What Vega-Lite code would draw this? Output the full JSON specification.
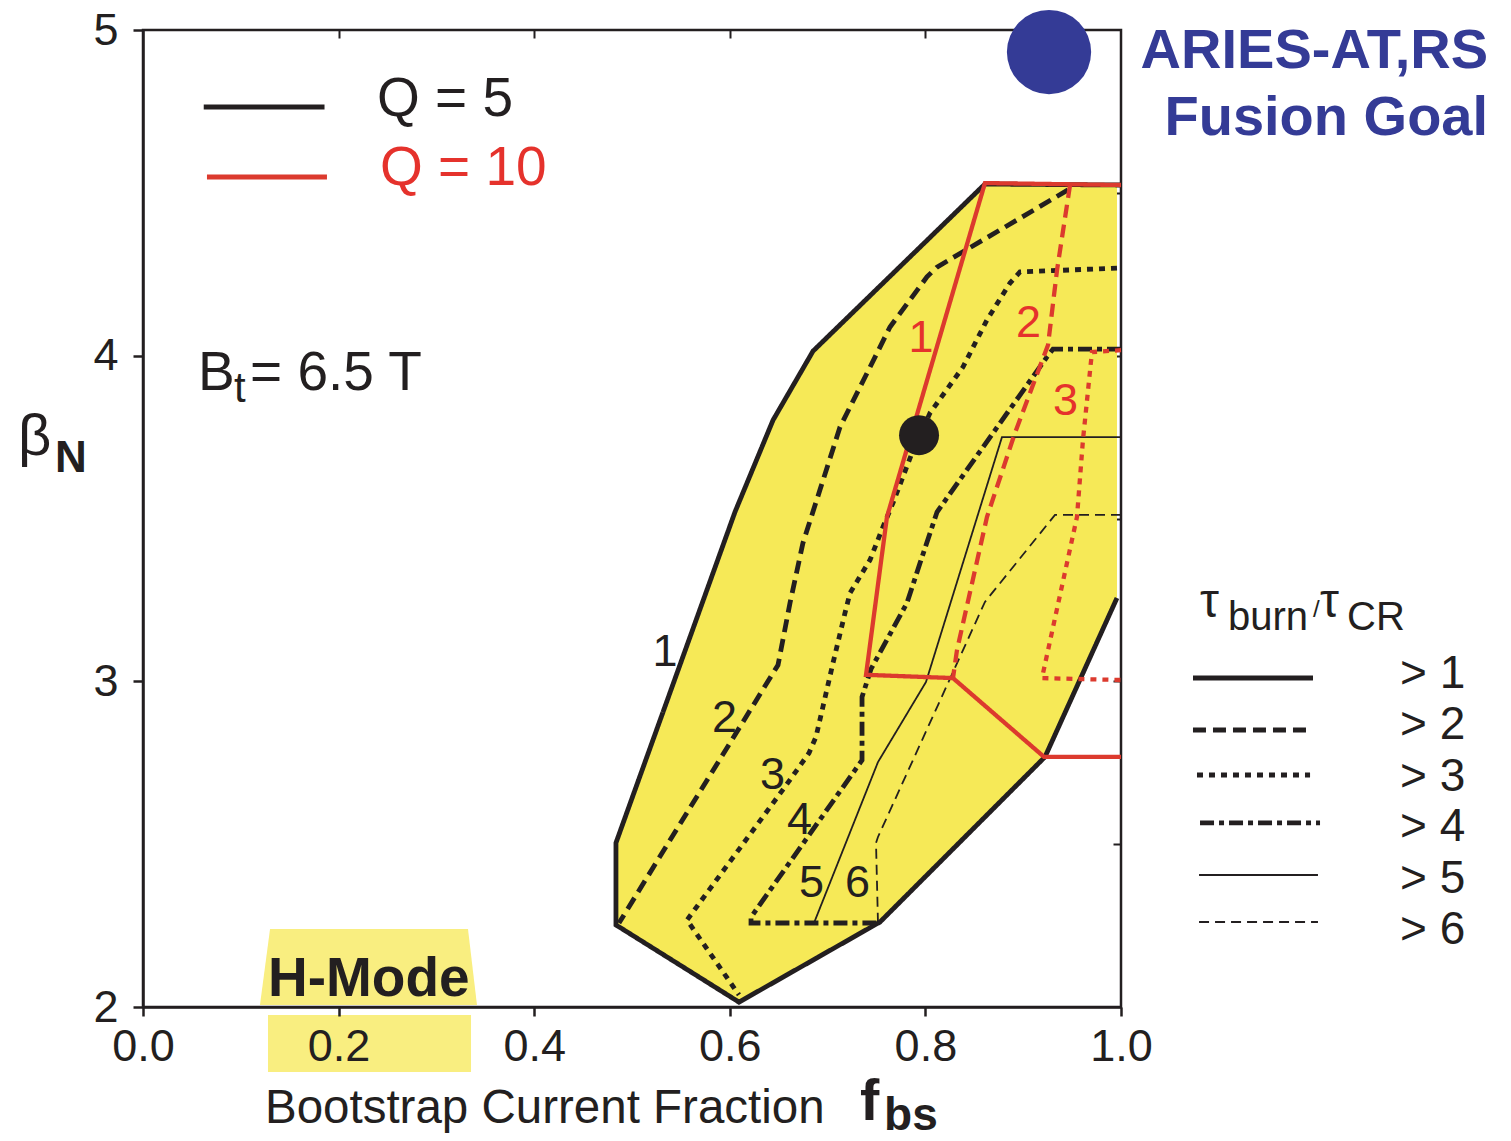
{
"$schema": "https://vega.github.io/schema/vega-lite/v6.json",
"width": 978, "height": 977,
"autosize": {"type": "none"},
"padding": {"left": 143, "top": 30, "right": 390, "bottom": 134},
"background": "white",
"config": {"view": {"stroke": "#231f20", "strokeWidth": 2.5}, "font": "Liberation Sans", "axis": {"grid": false}},
"datasets": {
"curves": [
{"c":"k1","q":"5","t":">1","o":1,"x":1.0,"y":4.524},
{"c":"k1","q":"5","t":">1","o":2,"x":0.8609,"y":4.527},
{"c":"k1","q":"5","t":">1","o":3,"x":0.6851,"y":4.014},
{"c":"k1","q":"5","t":">1","o":4,"x":0.6442,"y":3.802},
{"c":"k1","q":"5","t":">1","o":5,"x":0.6053,"y":3.52},
{"c":"k1","q":"5","t":">1","o":6,"x":0.4836,"y":2.504},
{"c":"k1","q":"5","t":">1","o":7,"x":0.4836,"y":2.252},
{"c":"k1","q":"5","t":">1","o":8,"x":0.6094,"y":2.015},
{"c":"k1","q":"5","t":">1","o":9,"x":0.7536,"y":2.261},
{"c":"k1","q":"5","t":">1","o":10,"x":0.9223,"y":2.768},
{"c":"k1","q":"5","t":">1","o":11,"x":0.9959,"y":3.256},
{"c":"k2","q":"5","t":">2","o":1,"x":0.9458,"y":4.509},
{"c":"k2","q":"5","t":">2","o":2,"x":0.8119,"y":4.272},
{"c":"k2","q":"5","t":">2","o":3,"x":0.8016,"y":4.242},
{"c":"k2","q":"5","t":">2","o":4,"x":0.7638,"y":4.088},
{"c":"k2","q":"5","t":">2","o":5,"x":0.7434,"y":3.965},
{"c":"k2","q":"5","t":">2","o":6,"x":0.7127,"y":3.781},
{"c":"k2","q":"5","t":">2","o":7,"x":0.6922,"y":3.588},
{"c":"k2","q":"5","t":">2","o":8,"x":0.6748,"y":3.425},
{"c":"k2","q":"5","t":">2","o":9,"x":0.6616,"y":3.241},
{"c":"k2","q":"5","t":">2","o":10,"x":0.6493,"y":3.05},
{"c":"k2","q":"5","t":">2","o":11,"x":0.4867,"y":2.258},
{"c":"k3","q":"5","t":">3","o":1,"x":0.9959,"y":4.269},
{"c":"k3","q":"5","t":">3","o":2,"x":0.8967,"y":4.257},
{"c":"k3","q":"5","t":">3","o":3,"x":0.8865,"y":4.223},
{"c":"k3","q":"5","t":">3","o":4,"x":0.863,"y":4.11},
{"c":"k3","q":"5","t":">3","o":5,"x":0.8384,"y":3.965},
{"c":"k3","q":"5","t":">3","o":6,"x":0.8047,"y":3.824},
{"c":"k3","q":"5","t":">3","o":7,"x":0.7863,"y":3.701},
{"c":"k3","q":"5","t":">3","o":8,"x":0.7669,"y":3.548},
{"c":"k3","q":"5","t":">3","o":9,"x":0.7566,"y":3.474},
{"c":"k3","q":"5","t":">3","o":10,"x":0.7434,"y":3.373},
{"c":"k3","q":"5","t":">3","o":11,"x":0.7229,"y":3.271},
{"c":"k3","q":"5","t":">3","o":12,"x":0.7178,"y":3.21},
{"c":"k3","q":"5","t":">3","o":13,"x":0.7055,"y":3.056},
{"c":"k3","q":"5","t":">3","o":14,"x":0.6881,"y":2.829},
{"c":"k3","q":"5","t":">3","o":15,"x":0.681,"y":2.78},
{"c":"k3","q":"5","t":">3","o":16,"x":0.6564,"y":2.676},
{"c":"k3","q":"5","t":">3","o":17,"x":0.5562,"y":2.267},
{"c":"k3","q":"5","t":">3","o":18,"x":0.6094,"y":2.037},
{"c":"k4","q":"5","t":">4","o":1,"x":1.0,"y":4.02},
{"c":"k4","q":"5","t":">4","o":2,"x":0.9305,"y":4.02},
{"c":"k4","q":"5","t":">4","o":3,"x":0.9243,"y":3.996},
{"c":"k4","q":"5","t":">4","o":4,"x":0.8119,"y":3.52},
{"c":"k4","q":"5","t":">4","o":5,"x":0.7945,"y":3.363},
{"c":"k4","q":"5","t":">4","o":6,"x":0.7812,"y":3.241},
{"c":"k4","q":"5","t":">4","o":7,"x":0.7444,"y":3.038},
{"c":"k4","q":"5","t":">4","o":8,"x":0.7352,"y":2.952},
{"c":"k4","q":"5","t":">4","o":9,"x":0.7352,"y":2.758},
{"c":"k4","q":"5","t":">4","o":10,"x":0.6217,"y":2.276},
{"c":"k4","q":"5","t":">4","o":11,"x":0.6217,"y":2.258},
{"c":"k4","q":"5","t":">4","o":12,"x":0.7515,"y":2.258},
{"c":"k5","q":"5","t":">5","o":1,"x":1.0,"y":3.75},
{"c":"k5","q":"5","t":">5","o":2,"x":0.8783,"y":3.75},
{"c":"k5","q":"5","t":">5","o":3,"x":0.8006,"y":2.998},
{"c":"k5","q":"5","t":">5","o":4,"x":0.7515,"y":2.752},
{"c":"k5","q":"5","t":">5","o":5,"x":0.6861,"y":2.258},
{"c":"k6","q":"5","t":">6","o":1,"x":1.0,"y":3.511},
{"c":"k6","q":"5","t":">6","o":2,"x":0.9325,"y":3.511},
{"c":"k6","q":"5","t":">6","o":3,"x":0.8609,"y":3.244},
{"c":"k6","q":"5","t":">6","o":4,"x":0.7515,"y":2.522},
{"c":"k6","q":"5","t":">6","o":5,"x":0.7495,"y":2.504},
{"c":"k6","q":"5","t":">6","o":6,"x":0.7515,"y":2.261},
{"c":"r1","q":"10","t":">1","o":1,"x":1.0,"y":4.524},
{"c":"r1","q":"10","t":">1","o":2,"x":0.8609,"y":4.53},
{"c":"r1","q":"10","t":">1","o":3,"x":0.7607,"y":3.505},
{"c":"r1","q":"10","t":">1","o":4,"x":0.7393,"y":3.02},
{"c":"r1","q":"10","t":">1","o":5,"x":0.8282,"y":3.01},
{"c":"r1","q":"10","t":">1","o":6,"x":0.9213,"y":2.768},
{"c":"r1","q":"10","t":">1","o":7,"x":1.0,"y":2.768},
{"c":"r2","q":"10","t":">2","o":1,"x":0.9479,"y":4.524},
{"c":"r2","q":"10","t":">2","o":2,"x":0.9346,"y":4.263},
{"c":"r2","q":"10","t":">2","o":3,"x":0.9254,"y":4.033},
{"c":"r2","q":"10","t":">2","o":4,"x":0.8916,"y":3.763},
{"c":"r2","q":"10","t":">2","o":5,"x":0.863,"y":3.505},
{"c":"r2","q":"10","t":">2","o":6,"x":0.8323,"y":3.096},
{"c":"r2","q":"10","t":">2","o":7,"x":0.8282,"y":3.01},
{"c":"r3","q":"10","t":">3","o":1,"x":1.0,"y":4.017},
{"c":"r3","q":"10","t":">3","o":2,"x":0.9703,"y":4.011},
{"c":"r3","q":"10","t":">3","o":3,"x":0.9611,"y":3.741},
{"c":"r3","q":"10","t":">3","o":4,"x":0.955,"y":3.505},
{"c":"r3","q":"10","t":">3","o":5,"x":0.9192,"y":3.01},
{"c":"r3","q":"10","t":">3","o":6,"x":1.0,"y":3.004}
],
"region": [
{"o":1,"x":0.8609,"y":4.527},
{"o":2,"x":0.6851,"y":4.014},
{"o":3,"x":0.6442,"y":3.802},
{"o":4,"x":0.6053,"y":3.52},
{"o":5,"x":0.4836,"y":2.504},
{"o":6,"x":0.4836,"y":2.252},
{"o":7,"x":0.6094,"y":2.015},
{"o":8,"x":0.7536,"y":2.261},
{"o":9,"x":0.9223,"y":2.768},
{"o":10,"x":0.9959,"y":3.256},
{"o":11,"x":0.9959,"y":4.524}
],
"keys": [
{"g":"tau","q":"5","t":">1","x":1.0736,"x2":1.1963,"y":3.0103},
{"g":"tau","q":"5","t":">2","x":1.0736,"x2":1.1963,"y":2.8506},
{"g":"tau","q":"5","t":">3","x":1.0777,"x2":1.1933,"y":2.7124},
{"g":"tau","q":"5","t":">4","x":1.0808,"x2":1.2035,"y":2.5651},
{"g":"tau","q":"5","t":">5","x":1.0798,"x2":1.2014,"y":2.4053},
{"g":"tau","q":"5","t":">6","x":1.0798,"x2":1.2014,"y":2.261},
{"g":"Q","q":"5","t":">1","x":0.0621,"x2":0.1856,"y":4.7636},
{"g":"Q","q":"10","t":">1","x":0.0654,"x2":0.1881,"y":4.5486}
]
},
"resolve": {"axis": {"x": "independent", "y": "independent"}},
"encoding": {
"x": {"field": "x", "type": "quantitative", "scale": {"domain": [0, 1], "nice": false, "zero": false}, "axis": null},
"y": {"field": "y", "type": "quantitative", "scale": {"domain": [2, 5], "nice": false, "zero": false}, "axis": null}
},
"layer": [
{
"data": {"name": "region"},
"mark": {"type": "line", "filled": true, "color": "#f6e957", "strokeWidth": 0},
"encoding": {"order": {"field": "o", "type": "quantitative"}}
},
{
"data": {"values": [
{"o":1,"x":0.1299,"y":2.2395},
{"o":2,"x":0.3323,"y":2.2395},
{"o":3,"x":0.3415,"y":2.0062},
{"o":4,"x":0.1196,"y":2.0062}
]},
"mark": {"type": "line", "filled": true, "color": "#f9ee80", "strokeWidth": 0},
"encoding": {"order": {"field": "o", "type": "quantitative"}}
},
{
"data": {"values": [{"x":0.1278,"x2":0.3354,"y":1.9755,"y2":1.8005}]},
"mark": {"type": "rect", "color": "#f9ee80"},
"encoding": {"x2": {"field": "x2"}, "y2": {"field": "y2"}}
},
{
"data": {"name": "curves"},
"transform": [{"filter": "datum.q === '5' && (datum.t === '>1' || datum.t === '>2' || datum.t === '>3' || datum.t === '>4')"}],
"mark": {"type": "line", "strokeWidth": 4.8, "strokeCap": "butt", "strokeJoin": "miter"},
"encoding": {
"x": {"field": "x", "type": "quantitative", "scale": {"domain": [0, 1], "nice": false, "zero": false},
 "axis": {"orient": "bottom", "values": [0, 0.2, 0.4, 0.6, 0.8, 1], "format": ".1f", "labelFontSize": 45, "labelFont": "Liberation Sans", "labelColor": "#231f20", "labelPadding": 8, "labelFlush": false, "labelOverlap": false, "tickSize": 9, "tickWidth": 2.5, "tickColor": "#231f20", "domainColor": "#231f20", "domainWidth": 2.5, "title": null, "grid": false, "zindex": 1}},
"y": {"field": "y", "type": "quantitative", "scale": {"domain": [2, 5], "nice": false, "zero": false},
 "axis": {"orient": "left", "values": [2, 2.5, 3, 3.5, 4, 4.5, 5], "labelExpr": "datum.value % 1 === 0 ? datum.label : ''", "format": "d", "labelFontSize": 45, "labelFont": "Liberation Sans", "labelColor": "#231f20", "labelPadding": 15, "labelFlush": false, "labelOverlap": false, "tickSize": 10, "tickWidth": 2.5, "tickColor": "#231f20", "domainColor": "#231f20", "domainWidth": 2.5, "title": null, "grid": false, "zindex": 1}},
"detail": {"field": "c"},
"order": {"field": "o", "type": "quantitative"},
"color": {"field": "q", "type": "nominal", "scale": {"domain": ["5", "10"], "range": ["#231f20", "#dc3a2e"]}, "legend": null},
"strokeDash": {"field": "t", "type": "nominal", "scale": {"domain": [">1", ">2", ">3", ">4", ">5", ">6"], "range": [[1, 0], [13, 7], [6, 6], [14, 5, 5, 5], [1, 0], [10, 6]]}, "legend": null}
}
},
{
"data": {"name": "curves"},
"transform": [{"filter": "datum.t === '>5' || datum.t === '>6'"}],
"mark": {"type": "line", "strokeWidth": 1.8, "strokeCap": "butt", "strokeJoin": "miter"},
"encoding": {
"detail": {"field": "c"},
"order": {"field": "o", "type": "quantitative"},
"color": {"field": "q", "type": "nominal", "legend": null},
"strokeDash": {"field": "t", "type": "nominal", "legend": null}
}
},
{
"data": {"name": "curves"},
"transform": [{"filter": "datum.q === '10'"}],
"mark": {"type": "line", "strokeWidth": 4.3, "strokeCap": "butt", "strokeJoin": "miter"},
"encoding": {
"detail": {"field": "c"},
"order": {"field": "o", "type": "quantitative"},
"color": {"field": "q", "type": "nominal", "legend": null},
"strokeDash": {"field": "t", "type": "nominal", "legend": null}
}
},
{
"data": {"name": "keys"},
"transform": [{"filter": "datum.t === '>1' || datum.t === '>2' || datum.t === '>3' || datum.t === '>4'"}],
"mark": {"type": "rule", "strokeWidth": 4.8, "strokeCap": "butt"},
"encoding": {
"x2": {"field": "x2"},
"color": {"field": "q", "type": "nominal", "legend": null},
"strokeDash": {"field": "t", "type": "nominal", "legend": null}
}
},
{
"data": {"name": "keys"},
"transform": [{"filter": "datum.t === '>5' || datum.t === '>6'"}],
"mark": {"type": "rule", "strokeWidth": 1.8, "strokeCap": "butt"},
"encoding": {
"x2": {"field": "x2"},
"color": {"field": "q", "type": "nominal", "legend": null},
"strokeDash": {"field": "t", "type": "nominal", "legend": null}
}
},
{
"data": {"values": [{"x": 0.7935, "y": 3.756}]},
"mark": {"type": "point", "filled": true, "shape": "circle", "size": 1600, "color": "#231f20", "opacity": 1},
"encoding": {
"x": {"field": "x", "type": "quantitative", "scale": {"domain": [0, 1], "nice": false, "zero": false},
 "axis": {"orient": "top", "values": [0.2, 0.4, 0.6, 0.8], "labels": false, "domain": false, "ticks": true, "tickSize": -8, "tickWidth": 2, "tickColor": "#231f20", "title": null, "grid": false}},
"y": {"field": "y", "type": "quantitative", "scale": {"domain": [2, 5], "nice": false, "zero": false},
 "axis": {"orient": "right", "values": [2.5, 3, 3.5, 4, 4.5], "labels": false, "domain": false, "ticks": true, "tickSize": -8, "tickWidth": 2, "tickColor": "#231f20", "title": null, "grid": false}}
}
},
{
"data": {"values": [{"x": 0.9264, "y": 4.9324}]},
"mark": {"type": "point", "filled": true, "shape": "circle", "size": 7100, "color": "#343b96", "opacity": 1}
},
{
"data": {"values": [{"s": "Q = 5", "x": 0.2393, "y": 4.7359}, {"s": "B", "x": 0.0562, "y": 3.8946}, {"s": "= 6.5 T", "x": 0.1094, "y": 3.8946}]},
"mark": {"type": "text", "align": "left", "baseline": "alphabetic", "font": "Liberation Sans", "fontSize": 55, "color": "#231f20"},
"encoding": {"text": {"field": "s"}}
},
{
"data": {"values": [{"s": "Q = 10", "x": 0.2423, "y": 4.5241}]},
"mark": {"type": "text", "align": "left", "baseline": "alphabetic", "font": "Liberation Sans", "fontSize": 55, "color": "#e5322c"},
"encoding": {"text": {"field": "s"}}
},
{
"data": {"values": [{"s": "t", "x": 0.093, "y": 3.8577}]},
"mark": {"type": "text", "align": "left", "baseline": "alphabetic", "font": "Liberation Sans", "fontSize": 42, "color": "#231f20"},
"encoding": {"text": {"field": "s"}}
},
{
"data": {"values": [{"s": "ARIES-AT,RS", "x": 1.3753, "y": 4.8833}, {"s": "Fusion Goal", "x": 1.3753, "y": 4.6776}]},
"mark": {"type": "text", "align": "right", "baseline": "alphabetic", "font": "Liberation Sans", "fontWeight": "bold", "fontSize": 56, "color": "#343b96"},
"encoding": {"text": {"field": "s"}}
},
{
"data": {"values": [
{"s": "1", "x": 0.5337, "y": 3.0471},
{"s": "2", "x": 0.5946, "y": 2.8445},
{"s": "3", "x": 0.6437, "y": 2.6694},
{"s": "4", "x": 0.6713, "y": 2.5312},
{"s": "5", "x": 0.6835, "y": 2.3378},
{"s": "6", "x": 0.7306, "y": 2.3378}
]},
"mark": {"type": "text", "align": "center", "baseline": "alphabetic", "font": "Liberation Sans", "fontSize": 45, "color": "#231f20"},
"encoding": {"text": {"field": "s"}}
},
{
"data": {"values": [
{"s": "1", "x": 0.7955, "y": 4.0113},
{"s": "2", "x": 0.9054, "y": 4.0573},
{"s": "3", "x": 0.9433, "y": 3.8178}
]},
"mark": {"type": "text", "align": "center", "baseline": "alphabetic", "font": "Liberation Sans", "fontSize": 45, "color": "#e5322c"},
"encoding": {"text": {"field": "s"}}
},
{
"data": {"values": [
{"s": "> 1", "x": 1.2853, "y": 2.9796},
{"s": "> 2", "x": 1.2853, "y": 2.823},
{"s": "> 3", "x": 1.2853, "y": 2.6633},
{"s": "> 4", "x": 1.2853, "y": 2.5098},
{"s": "> 5", "x": 1.2853, "y": 2.3501},
{"s": "> 6", "x": 1.2853, "y": 2.1935}
]},
"mark": {"type": "text", "align": "left", "baseline": "alphabetic", "font": "Liberation Sans", "fontSize": 46, "color": "#231f20"},
"encoding": {"text": {"field": "s"}}
},
{
"data": {"values": [
{"s": "τ", "x": 1.0808, "y": 3.1976},
{"s": "τ", "x": 1.2035, "y": 3.1976}
]},
"mark": {"type": "text", "align": "left", "baseline": "alphabetic", "font": "Liberation Sans", "fontSize": 48, "color": "#231f20"},
"encoding": {"text": {"field": "s"}}
},
{
"data": {"values": [
{"s": "burn", "x": 1.1094, "y": 3.1576},
{"s": "CR", "x": 1.2311, "y": 3.1576}
]},
"mark": {"type": "text", "align": "left", "baseline": "alphabetic", "font": "Liberation Sans", "fontSize": 40, "color": "#231f20"},
"encoding": {"text": {"field": "s"}}
},
{
"data": {"values": [{"s": "/", "x": 1.1963, "y": 3.1976}]},
"mark": {"type": "text", "align": "left", "baseline": "alphabetic", "font": "Liberation Sans", "fontSize": 24, "color": "#231f20"},
"encoding": {"text": {"field": "s"}}
},
{
"data": {"values": [{"s": "β", "x": -0.1278, "y": 3.695}]},
"mark": {"type": "text", "align": "left", "baseline": "alphabetic", "font": "Liberation Sans", "fontSize": 58, "color": "#231f20"},
"encoding": {"text": {"field": "s"}}
},
{
"data": {"values": [{"s": "N", "x": -0.09, "y": 3.6428}]},
"mark": {"type": "text", "align": "left", "baseline": "alphabetic", "font": "Liberation Sans", "fontWeight": "bold", "fontSize": 44, "color": "#231f20"},
"encoding": {"text": {"field": "s"}}
},
{
"data": {"values": [{"s": "Bootstrap Current Fraction", "x": 0.1247, "y": 1.6439}]},
"mark": {"type": "text", "align": "left", "baseline": "alphabetic", "font": "Liberation Sans", "fontSize": 47.5, "color": "#231f20"},
"encoding": {"text": {"field": "s"}}
},
{
"data": {"values": [{"s": "f", "x": 0.7331, "y": 1.6531}]},
"mark": {"type": "text", "align": "left", "baseline": "alphabetic", "font": "Liberation Sans", "fontWeight": "bold", "fontSize": 58, "color": "#231f20"},
"encoding": {"text": {"field": "s"}}
},
{
"data": {"values": [{"s": "bs", "x": 0.7577, "y": 1.6224}]},
"mark": {"type": "text", "align": "left", "baseline": "alphabetic", "font": "Liberation Sans", "fontWeight": "bold", "fontSize": 46, "color": "#231f20"},
"encoding": {"text": {"field": "s"}}
},
{
"data": {"values": [{"s": "H-Mode", "x": 0.1278, "y": 2.0338}]},
"mark": {"type": "text", "align": "left", "baseline": "alphabetic", "font": "Liberation Sans", "fontWeight": "bold", "fontSize": 55, "color": "#231f20"},
"encoding": {"text": {"field": "s"}}
}
]
}
